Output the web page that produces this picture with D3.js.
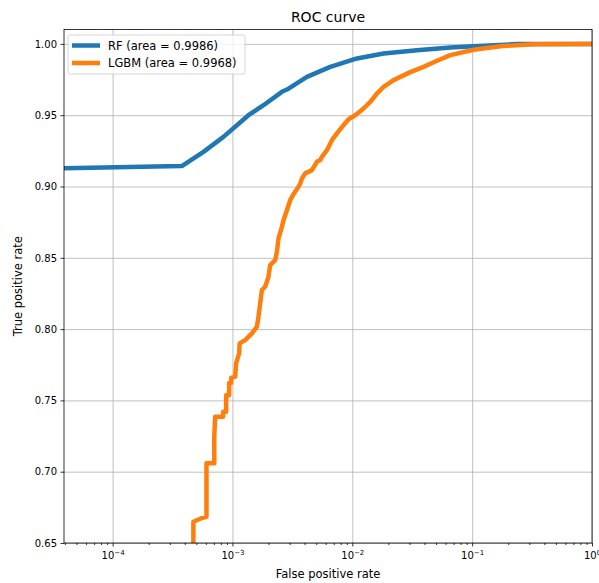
<!DOCTYPE html>
<html>
<head>
<meta charset="utf-8">
<script src="https://cdn.jsdelivr.net/npm/d3@7"></script>
<style>
    body { margin: 0; background: #fff; }
    text { font-family: "DejaVu Sans", sans-serif; fill: #000; }
    .grid line { stroke: #b0b0b0; stroke-width: 0.8; }
    .grid path { display: none; }
    .axis path { display: none; }
    .axis line { stroke: #000; stroke-width: 0.8; }
    .axis text { font-size: 10px; }
    .line { fill: none; stroke-width: 4.5; stroke-linejoin: round; stroke-linecap: butt; }
</style>
</head>
<body>
<script>
// ROC curve (false positive rate on log scale)
var rfFpr = [3.0e-5, 3.78e-4, 5.73e-4, 8.41e-4, 1.36e-3, 1.815e-3, 2.585e-3, 2.85e-3, 4.18e-3,
    6.55e-3, 1.094e-2, 1.824e-2, 3.47e-2, 6.58e-2, 0.103, 0.237, 1.0];
var rfTpr = [0.9126, 0.9143, 0.9243, 0.9348, 0.9500, 0.9570, 0.9664, 0.9680, 0.9769,
    0.9839, 0.9898, 0.9933, 0.9956, 0.9975, 0.9984, 0.9999, 1.0];

var lgbmFpr = [4.72e-4, 4.72e-4, 5.55e-4, 6.07e-4, 6.07e-4, 7.05e-4, 7.05e-4, 7.17e-4, 8.36e-4, 8.36e-4,
    8.86e-4, 8.86e-4, 9.38e-4, 9.38e-4, 9.75e-4, 9.75e-4, 1.053e-3, 1.074e-3, 1.137e-3, 1.148e-3,
    1.276e-3, 1.452e-3, 1.599e-3, 1.648e-3, 1.703e-3, 1.760e-3, 1.875e-3, 1.998e-3, 2.064e-3, 2.273e-3,
    2.349e-3, 2.422e-3, 2.585e-3, 2.667e-3, 2.847e-3, 3.032e-3, 3.232e-3, 3.557e-3, 3.675e-3, 3.797e-3,
    4.046e-3, 4.604e-3, 5.068e-3, 5.400e-3, 5.58e-3, 6.14e-3, 6.76e-3, 7.44e-3, 8.45e-3, 9.30e-3,
    1.058e-2, 1.241e-2, 1.412e-2, 1.607e-2, 1.824e-2, 2.211e-2, 3.048e-2, 3.936e-2, 5.09e-2, 6.58e-2,
    0.1029, 0.172, 0.326, 1.0];
var lgbmTpr = [0.6400, 0.6649, 0.6675, 0.6684, 0.7059, 0.7059, 0.7245, 0.7385, 0.7385, 0.7420,
    0.7420, 0.7537, 0.7537, 0.7622, 0.7622, 0.7657, 0.7666, 0.7762, 0.7832, 0.7900,
    0.7923, 0.7970, 0.8016, 0.8086, 0.8180, 0.8274, 0.8297, 0.8367, 0.8449, 0.8484,
    0.8542, 0.8636, 0.8717, 0.8764, 0.8834, 0.8904, 0.8946, 0.8998, 0.9021, 0.9056,
    0.9092, 0.9115, 0.9173, 0.9185, 0.9208, 0.9255, 0.9325, 0.9372, 0.9430, 0.9472,
    0.9500, 0.9547, 0.9593, 0.9652, 0.9699, 0.9746, 0.9802, 0.9839, 0.9882, 0.9921,
    0.9959, 0.9984, 0.9998, 1.0];

var yTicks = [0.65, 0.70, 0.75, 0.80, 0.85, 0.90, 0.95, 1.00];
var xTicks = [1e-4, 1e-3, 1e-2, 1e-1, 1];
var xTickExps = ["\u22124", "\u22123", "\u22122", "\u22121", "0"];
var legendLabels = ["RF (area = 0.9986)", "LGBM (area = 0.9968)"];
var colors = ["#1f77b4", "#ff7f0e"];

var rfData = rfFpr.map(function (d, i) { return {fpr: d, tpr: rfTpr[i]}; });
var lgbmData = lgbmFpr.map(function (d, i) { return {fpr: d, tpr: lgbmTpr[i]}; });

//---------setup plot-----------------------//
var margin = {top: 29.5, right: 7, bottom: 40, left: 64},
    width = 599 - margin.left - margin.right,
    height = 583 - margin.top - margin.bottom;

var x = d3.scaleLog()
    .domain([3.93e-5, 1])
    .range([0, width]);

var y = d3.scaleLinear()
    .domain([0.65, 1.0101])
    .range([height, 0]);

var svg = d3.select("body").append("svg")
    .attr("width", 599)
    .attr("height", 583)
    .append("g")
    .attr("transform", "translate(" + margin.left + "," + margin.top + ")");

svg.append("clipPath")
    .attr("id", "clip")
    .append("rect")
    .attr("width", width)
    .attr("height", height);

// gridlines
svg.append("g")
    .attr("class", "grid")
    .attr("transform", "translate(0," + height + ")")
    .call(d3.axisBottom(x).tickValues(xTicks).tickSize(-height).tickFormat(""));

svg.append("g")
    .attr("class", "grid")
    .call(d3.axisLeft(y).tickValues(yTicks).tickSize(-width).tickFormat(""));

// the curves
var valueline = d3.line()
    .x(function (d) { return x(d.fpr); })
    .y(function (d) { return y(d.tpr); });

svg.append("path")
    .data([rfData])
    .attr("class", "line")
    .attr("clip-path", "url(#clip)")
    .style("stroke", colors[0])
    .attr("d", valueline);

svg.append("path")
    .data([lgbmData])
    .attr("class", "line")
    .attr("clip-path", "url(#clip)")
    .style("stroke", colors[1])
    .attr("d", valueline);

// y-axis
svg.append("g")
    .attr("class", "axis")
    .call(d3.axisLeft(y).tickValues(yTicks).tickSize(3.5).tickPadding(3.5).tickFormat(d3.format(".2f")));

// x-axis minor ticks
var minor = x.ticks().filter(function (d) { return xTicks.indexOf(d) < 0; });
svg.append("g")
    .attr("class", "axis")
    .attr("transform", "translate(0," + height + ")")
    .call(d3.axisBottom(x).tickValues(minor).tickSize(2).tickFormat(""));

// x-axis major ticks, labels as 10^n
var xAxisG = svg.append("g")
    .attr("class", "axis")
    .attr("transform", "translate(0," + height + ")")
    .call(d3.axisBottom(x).tickValues(xTicks).tickSize(3.5).tickPadding(5).tickFormat(""));

xAxisG.selectAll(".tick text").each(function (d, i) {
    var t = d3.select(this);
    t.append("tspan").text("10");
    t.append("tspan").attr("dy", "-0.45em").style("font-size", "7px").text(xTickExps[i]);
});

// frame
svg.append("rect")
    .attr("width", width)
    .attr("height", height)
    .style("fill", "none")
    .style("stroke", "#000")
    .style("stroke-width", 0.8);

// labels
svg.append("text")
    .attr("x", width / 2)
    .attr("y", -7.5)
    .attr("text-anchor", "middle")
    .style("font-size", "14px")
    .text("ROC curve");

svg.append("text")
    .attr("x", width / 2)
    .attr("y", height + 35)
    .attr("text-anchor", "middle")
    .style("font-size", "11.5px")
    .text("False positive rate");

svg.append("text")
    .attr("transform", "rotate(-90)")
    .attr("x", -height / 2)
    .attr("y", -42)
    .attr("text-anchor", "middle")
    .style("font-size", "11.5px")
    .text("True positive rate");

// legend
var legend = svg.append("g")
    .attr("transform", "translate(4,5.5)");

legend.append("rect")
    .attr("width", 177)
    .attr("height", 39)
    .attr("rx", 2)
    .style("fill", "#fff")
    .style("fill-opacity", 0.8)
    .style("stroke", "#ccc")
    .style("stroke-width", 0.8);

legendLabels.forEach(function (label, i) {
    var row = legend.append("g")
        .attr("transform", "translate(0," + (10.5 + i * 17.5) + ")");
    row.append("line")
        .attr("x1", 4)
        .attr("x2", 32)
        .style("stroke", colors[i])
        .style("stroke-width", 4.5);
    row.append("text")
        .attr("x", 40)
        .attr("dy", "0.35em")
        .style("font-size", "11.5px")
        .text(label);
});
</script>
</body>
</html>
